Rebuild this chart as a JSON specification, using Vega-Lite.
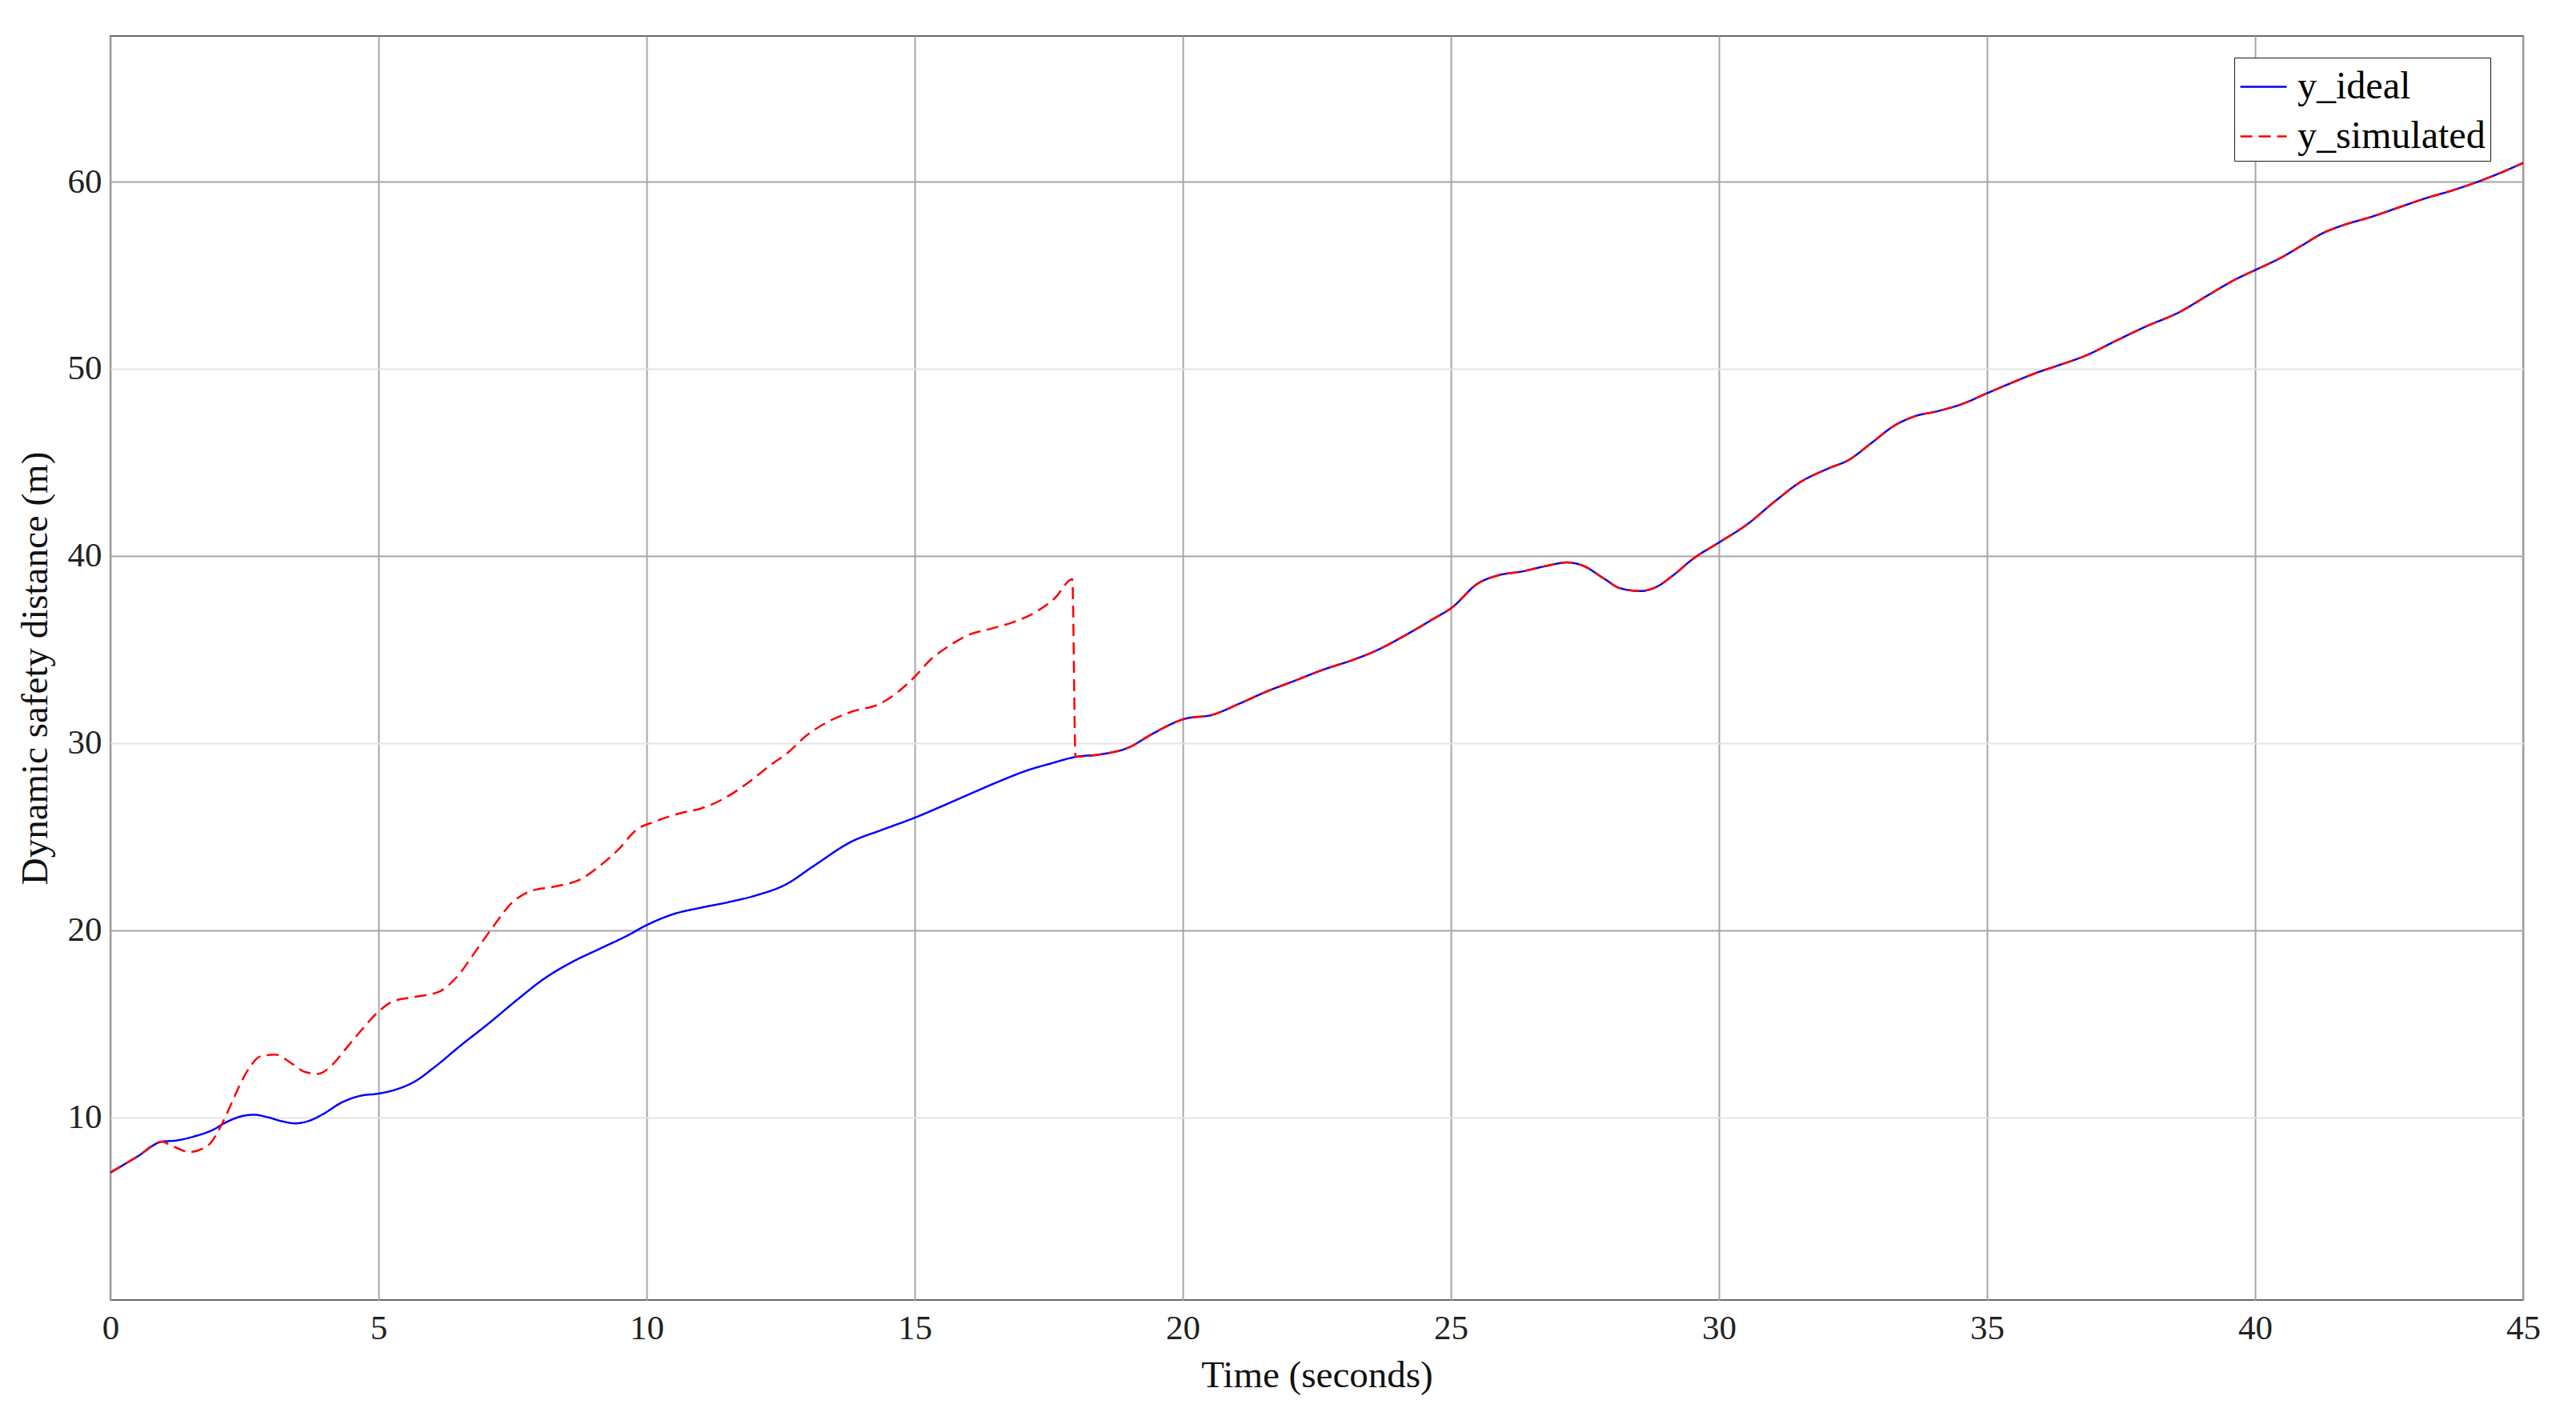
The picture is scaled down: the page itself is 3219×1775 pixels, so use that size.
{
  "$schema": "https://vega.github.io/schema/vega-lite/v6.json",
  "width": 3015,
  "height": 1580,
  "autosize": {"type": "none"},
  "padding": {"left": 138, "top": 45, "right": 66, "bottom": 150},
  "background": "white",
  "config": {
    "font": "Liberation Serif",
    "view": {"stroke": "#6b6b6b", "strokeWidth": 2},
    "axis": {
      "labelFont": "Liberation Serif",
      "titleFont": "Liberation Serif",
      "labelColor": "#222222",
      "titleColor": "#111111",
      "titleFontWeight": "normal",
      "domain": false,
      "ticks": false,
      "gridWidth": 2
    }
  },
  "datasets": {
    "curves": [
      {"t": 0, "y": 7.05, "series": "y_ideal"},
      {"t": 0.5, "y": 7.9, "series": "y_ideal"},
      {"t": 0.96, "y": 8.7, "series": "y_ideal"},
      {"t": 1.22, "y": 8.76, "series": "y_ideal"},
      {"t": 1.56, "y": 8.98, "series": "y_ideal"},
      {"t": 1.91, "y": 9.33, "series": "y_ideal"},
      {"t": 2.16, "y": 9.74, "series": "y_ideal"},
      {"t": 2.42, "y": 10.04, "series": "y_ideal"},
      {"t": 2.68, "y": 10.14, "series": "y_ideal"},
      {"t": 2.94, "y": 10.0, "series": "y_ideal"},
      {"t": 3.2, "y": 9.79, "series": "y_ideal"},
      {"t": 3.45, "y": 9.68, "series": "y_ideal"},
      {"t": 3.71, "y": 9.82, "series": "y_ideal"},
      {"t": 3.97, "y": 10.18, "series": "y_ideal"},
      {"t": 4.31, "y": 10.79, "series": "y_ideal"},
      {"t": 4.66, "y": 11.15, "series": "y_ideal"},
      {"t": 5.0, "y": 11.27, "series": "y_ideal"},
      {"t": 5.34, "y": 11.5, "series": "y_ideal"},
      {"t": 5.69, "y": 11.94, "series": "y_ideal"},
      {"t": 6.03, "y": 12.65, "series": "y_ideal"},
      {"t": 6.55, "y": 13.88, "series": "y_ideal"},
      {"t": 7.06, "y": 15.03, "series": "y_ideal"},
      {"t": 7.58, "y": 16.27, "series": "y_ideal"},
      {"t": 8.09, "y": 17.41, "series": "y_ideal"},
      {"t": 8.61, "y": 18.3, "series": "y_ideal"},
      {"t": 9.12, "y": 19.0, "series": "y_ideal"},
      {"t": 9.64, "y": 19.71, "series": "y_ideal"},
      {"t": 10.0, "y": 20.27, "series": "y_ideal"},
      {"t": 10.5, "y": 20.86, "series": "y_ideal"},
      {"t": 11.01, "y": 21.2, "series": "y_ideal"},
      {"t": 11.53, "y": 21.5, "series": "y_ideal"},
      {"t": 12.04, "y": 21.86, "series": "y_ideal"},
      {"t": 12.6, "y": 22.45, "series": "y_ideal"},
      {"t": 13.1, "y": 23.4, "series": "y_ideal"},
      {"t": 13.84, "y": 24.76, "series": "y_ideal"},
      {"t": 14.36, "y": 25.33, "series": "y_ideal"},
      {"t": 15.0, "y": 26.01, "series": "y_ideal"},
      {"t": 15.56, "y": 26.69, "series": "y_ideal"},
      {"t": 16.07, "y": 27.33, "series": "y_ideal"},
      {"t": 16.59, "y": 27.97, "series": "y_ideal"},
      {"t": 17.1, "y": 28.54, "series": "y_ideal"},
      {"t": 17.53, "y": 28.9, "series": "y_ideal"},
      {"t": 18.0, "y": 29.26, "series": "y_ideal"},
      {"t": 18.48, "y": 29.4, "series": "y_ideal"},
      {"t": 18.99, "y": 29.76, "series": "y_ideal"},
      {"t": 19.42, "y": 30.47, "series": "y_ideal"},
      {"t": 20.03, "y": 31.29, "series": "y_ideal"},
      {"t": 20.54, "y": 31.5, "series": "y_ideal"},
      {"t": 21.06, "y": 32.11, "series": "y_ideal"},
      {"t": 21.57, "y": 32.76, "series": "y_ideal"},
      {"t": 22.09, "y": 33.33, "series": "y_ideal"},
      {"t": 22.6, "y": 33.9, "series": "y_ideal"},
      {"t": 23.2, "y": 34.47, "series": "y_ideal"},
      {"t": 23.63, "y": 34.97, "series": "y_ideal"},
      {"t": 24.15, "y": 35.76, "series": "y_ideal"},
      {"t": 24.66, "y": 36.61, "series": "y_ideal"},
      {"t": 25.03, "y": 37.26, "series": "y_ideal"},
      {"t": 25.49, "y": 38.5, "series": "y_ideal"},
      {"t": 25.87, "y": 38.95, "series": "y_ideal"},
      {"t": 26.33, "y": 39.17, "series": "y_ideal"},
      {"t": 26.79, "y": 39.47, "series": "y_ideal"},
      {"t": 27.17, "y": 39.65, "series": "y_ideal"},
      {"t": 27.47, "y": 39.47, "series": "y_ideal"},
      {"t": 27.85, "y": 38.8, "series": "y_ideal"},
      {"t": 28.16, "y": 38.27, "series": "y_ideal"},
      {"t": 28.54, "y": 38.12, "series": "y_ideal"},
      {"t": 28.84, "y": 38.35, "series": "y_ideal"},
      {"t": 29.14, "y": 38.95, "series": "y_ideal"},
      {"t": 29.52, "y": 39.85, "series": "y_ideal"},
      {"t": 30.02, "y": 40.75, "series": "y_ideal"},
      {"t": 30.51, "y": 41.65, "series": "y_ideal"},
      {"t": 31.05, "y": 42.93, "series": "y_ideal"},
      {"t": 31.5, "y": 43.91, "series": "y_ideal"},
      {"t": 32.03, "y": 44.66, "series": "y_ideal"},
      {"t": 32.41, "y": 45.11, "series": "y_ideal"},
      {"t": 32.87, "y": 46.09, "series": "y_ideal"},
      {"t": 33.25, "y": 46.92, "series": "y_ideal"},
      {"t": 33.63, "y": 47.44, "series": "y_ideal"},
      {"t": 34.09, "y": 47.74, "series": "y_ideal"},
      {"t": 34.54, "y": 48.12, "series": "y_ideal"},
      {"t": 35.0, "y": 48.69, "series": "y_ideal"},
      {"t": 35.46, "y": 49.25, "series": "y_ideal"},
      {"t": 35.91, "y": 49.77, "series": "y_ideal"},
      {"t": 36.3, "y": 50.15, "series": "y_ideal"},
      {"t": 36.87, "y": 50.74, "series": "y_ideal"},
      {"t": 37.38, "y": 51.46, "series": "y_ideal"},
      {"t": 37.95, "y": 52.24, "series": "y_ideal"},
      {"t": 38.59, "y": 53.03, "series": "y_ideal"},
      {"t": 39.1, "y": 53.89, "series": "y_ideal"},
      {"t": 39.61, "y": 54.74, "series": "y_ideal"},
      {"t": 40.0, "y": 55.27, "series": "y_ideal"},
      {"t": 40.5, "y": 55.96, "series": "y_ideal"},
      {"t": 40.88, "y": 56.6, "series": "y_ideal"},
      {"t": 41.26, "y": 57.24, "series": "y_ideal"},
      {"t": 41.64, "y": 57.67, "series": "y_ideal"},
      {"t": 42.15, "y": 58.1, "series": "y_ideal"},
      {"t": 42.66, "y": 58.6, "series": "y_ideal"},
      {"t": 43.17, "y": 59.1, "series": "y_ideal"},
      {"t": 43.68, "y": 59.53, "series": "y_ideal"},
      {"t": 44.19, "y": 60.03, "series": "y_ideal"},
      {"t": 44.57, "y": 60.46, "series": "y_ideal"},
      {"t": 45.0, "y": 61.0, "series": "y_ideal"},

      {"t": 0, "y": 7.05, "series": "y_simulated"},
      {"t": 0.5, "y": 7.9, "series": "y_simulated"},
      {"t": 0.96, "y": 8.7, "series": "y_simulated"},
      {"t": 1.13, "y": 8.5, "series": "y_simulated"},
      {"t": 1.48, "y": 8.15, "series": "y_simulated"},
      {"t": 1.82, "y": 8.5, "series": "y_simulated"},
      {"t": 2.08, "y": 9.65, "series": "y_simulated"},
      {"t": 2.25, "y": 10.7, "series": "y_simulated"},
      {"t": 2.42, "y": 11.77, "series": "y_simulated"},
      {"t": 2.59, "y": 12.65, "series": "y_simulated"},
      {"t": 2.81, "y": 13.27, "series": "y_simulated"},
      {"t": 3.07, "y": 13.35, "series": "y_simulated"},
      {"t": 3.37, "y": 12.9, "series": "y_simulated"},
      {"t": 3.63, "y": 12.42, "series": "y_simulated"},
      {"t": 3.88, "y": 12.33, "series": "y_simulated"},
      {"t": 4.14, "y": 12.82, "series": "y_simulated"},
      {"t": 4.4, "y": 13.7, "series": "y_simulated"},
      {"t": 4.66, "y": 14.59, "series": "y_simulated"},
      {"t": 5.0, "y": 15.65, "series": "y_simulated"},
      {"t": 5.26, "y": 16.18, "series": "y_simulated"},
      {"t": 5.69, "y": 16.44, "series": "y_simulated"},
      {"t": 6.12, "y": 16.7, "series": "y_simulated"},
      {"t": 6.46, "y": 17.5, "series": "y_simulated"},
      {"t": 6.8, "y": 18.83, "series": "y_simulated"},
      {"t": 7.15, "y": 20.24, "series": "y_simulated"},
      {"t": 7.49, "y": 21.47, "series": "y_simulated"},
      {"t": 7.84, "y": 22.09, "series": "y_simulated"},
      {"t": 8.26, "y": 22.32, "series": "y_simulated"},
      {"t": 8.78, "y": 22.74, "series": "y_simulated"},
      {"t": 9.12, "y": 23.42, "series": "y_simulated"},
      {"t": 9.47, "y": 24.3, "series": "y_simulated"},
      {"t": 9.81, "y": 25.36, "series": "y_simulated"},
      {"t": 10.15, "y": 25.8, "series": "y_simulated"},
      {"t": 10.67, "y": 26.28, "series": "y_simulated"},
      {"t": 11.01, "y": 26.5, "series": "y_simulated"},
      {"t": 11.44, "y": 27.03, "series": "y_simulated"},
      {"t": 11.87, "y": 27.83, "series": "y_simulated"},
      {"t": 12.3, "y": 28.8, "series": "y_simulated"},
      {"t": 12.64, "y": 29.5, "series": "y_simulated"},
      {"t": 12.98, "y": 30.4, "series": "y_simulated"},
      {"t": 13.32, "y": 31.04, "series": "y_simulated"},
      {"t": 13.84, "y": 31.69, "series": "y_simulated"},
      {"t": 14.36, "y": 32.11, "series": "y_simulated"},
      {"t": 14.7, "y": 32.76, "series": "y_simulated"},
      {"t": 15.0, "y": 33.54, "series": "y_simulated"},
      {"t": 15.3, "y": 34.47, "series": "y_simulated"},
      {"t": 15.64, "y": 35.19, "series": "y_simulated"},
      {"t": 15.99, "y": 35.76, "series": "y_simulated"},
      {"t": 16.42, "y": 36.11, "series": "y_simulated"},
      {"t": 16.85, "y": 36.47, "series": "y_simulated"},
      {"t": 17.28, "y": 37.04, "series": "y_simulated"},
      {"t": 17.62, "y": 37.76, "series": "y_simulated"},
      {"t": 17.94, "y": 38.76, "series": "y_simulated"},
      {"t": 18.0, "y": 29.26, "series": "y_simulated"},
      {"t": 18.48, "y": 29.4, "series": "y_simulated"},
      {"t": 18.99, "y": 29.76, "series": "y_simulated"},
      {"t": 19.42, "y": 30.47, "series": "y_simulated"},
      {"t": 20.03, "y": 31.29, "series": "y_simulated"},
      {"t": 20.54, "y": 31.5, "series": "y_simulated"},
      {"t": 21.06, "y": 32.11, "series": "y_simulated"},
      {"t": 21.57, "y": 32.76, "series": "y_simulated"},
      {"t": 22.09, "y": 33.33, "series": "y_simulated"},
      {"t": 22.6, "y": 33.9, "series": "y_simulated"},
      {"t": 23.2, "y": 34.47, "series": "y_simulated"},
      {"t": 23.63, "y": 34.97, "series": "y_simulated"},
      {"t": 24.15, "y": 35.76, "series": "y_simulated"},
      {"t": 24.66, "y": 36.61, "series": "y_simulated"},
      {"t": 25.03, "y": 37.26, "series": "y_simulated"},
      {"t": 25.49, "y": 38.5, "series": "y_simulated"},
      {"t": 25.87, "y": 38.95, "series": "y_simulated"},
      {"t": 26.33, "y": 39.17, "series": "y_simulated"},
      {"t": 26.79, "y": 39.47, "series": "y_simulated"},
      {"t": 27.17, "y": 39.65, "series": "y_simulated"},
      {"t": 27.47, "y": 39.47, "series": "y_simulated"},
      {"t": 27.85, "y": 38.8, "series": "y_simulated"},
      {"t": 28.16, "y": 38.27, "series": "y_simulated"},
      {"t": 28.54, "y": 38.12, "series": "y_simulated"},
      {"t": 28.84, "y": 38.35, "series": "y_simulated"},
      {"t": 29.14, "y": 38.95, "series": "y_simulated"},
      {"t": 29.52, "y": 39.85, "series": "y_simulated"},
      {"t": 30.02, "y": 40.75, "series": "y_simulated"},
      {"t": 30.51, "y": 41.65, "series": "y_simulated"},
      {"t": 31.05, "y": 42.93, "series": "y_simulated"},
      {"t": 31.5, "y": 43.91, "series": "y_simulated"},
      {"t": 32.03, "y": 44.66, "series": "y_simulated"},
      {"t": 32.41, "y": 45.11, "series": "y_simulated"},
      {"t": 32.87, "y": 46.09, "series": "y_simulated"},
      {"t": 33.25, "y": 46.92, "series": "y_simulated"},
      {"t": 33.63, "y": 47.44, "series": "y_simulated"},
      {"t": 34.09, "y": 47.74, "series": "y_simulated"},
      {"t": 34.54, "y": 48.12, "series": "y_simulated"},
      {"t": 35.0, "y": 48.69, "series": "y_simulated"},
      {"t": 35.46, "y": 49.25, "series": "y_simulated"},
      {"t": 35.91, "y": 49.77, "series": "y_simulated"},
      {"t": 36.3, "y": 50.15, "series": "y_simulated"},
      {"t": 36.87, "y": 50.74, "series": "y_simulated"},
      {"t": 37.38, "y": 51.46, "series": "y_simulated"},
      {"t": 37.95, "y": 52.24, "series": "y_simulated"},
      {"t": 38.59, "y": 53.03, "series": "y_simulated"},
      {"t": 39.1, "y": 53.89, "series": "y_simulated"},
      {"t": 39.61, "y": 54.74, "series": "y_simulated"},
      {"t": 40.0, "y": 55.27, "series": "y_simulated"},
      {"t": 40.5, "y": 55.96, "series": "y_simulated"},
      {"t": 40.88, "y": 56.6, "series": "y_simulated"},
      {"t": 41.26, "y": 57.24, "series": "y_simulated"},
      {"t": 41.64, "y": 57.67, "series": "y_simulated"},
      {"t": 42.15, "y": 58.1, "series": "y_simulated"},
      {"t": 42.66, "y": 58.6, "series": "y_simulated"},
      {"t": 43.17, "y": 59.1, "series": "y_simulated"},
      {"t": 43.68, "y": 59.53, "series": "y_simulated"},
      {"t": 44.19, "y": 60.03, "series": "y_simulated"},
      {"t": 44.57, "y": 60.46, "series": "y_simulated"},
      {"t": 45.0, "y": 61.0, "series": "y_simulated"}
    ]
  },
  "data": {"name": "curves"},
  "mark": {"type": "line", "interpolate": "monotone", "strokeWidth": 2.5},
  "encoding": {
    "x": {
      "field": "t",
      "type": "quantitative",
      "scale": {"domain": [0, 45], "nice": false, "zero": false},
      "axis": {
        "values": [0, 5, 10, 15, 20, 25, 30, 35, 40, 45],
        "title": "Time (seconds)",
        "labelFontSize": 43,
        "titleFontSize": 47,
        "labelPadding": 14,
        "titlePadding": 14,
        "gridColor": "#a6a6a6",
        "labelFlush": false
      }
    },
    "y": {
      "field": "y",
      "type": "quantitative",
      "scale": {"domain": [0.24, 67.78], "nice": false, "zero": false},
      "axis": {
        "values": [10, 20, 30, 40, 50, 60],
        "title": "Dynamic safety distance (m)",
        "labelFontSize": 43,
        "titleFontSize": 47,
        "labelPadding": 11,
        "titlePadding": 16,
        "gridColor": {"expr": "datum.value % 20 === 0 ? '#a6a6a6' : '#e4e4e4'"}
      }
    },
    "color": {
      "field": "series",
      "type": "nominal",
      "scale": {"domain": ["y_ideal", "y_simulated"], "range": ["#0000ff", "#ff0000"]},
      "legend": {
        "title": null,
        "orient": "none",
        "legendX": 2654,
        "legendY": 27,
        "direction": "vertical",
        "fillColor": "white",
        "strokeColor": "#1a1a1a",
        "padding": 6,
        "labelFont": "Liberation Serif",
        "labelFontSize": 48,
        "labelColor": "#000000",
        "labelOffset": 12,
        "rowPadding": 7,
        "symbolType": "stroke",
        "symbolSize": 3364,
        "symbolStrokeWidth": 2.5,
        "labelLimit": 400
      }
    },
    "strokeDash": {
      "field": "series",
      "type": "nominal",
      "scale": {"domain": ["y_ideal", "y_simulated"], "range": [[1, 0], [15, 8]]},
      "legend": {
        "title": null,
        "orient": "none",
        "legendX": 2654,
        "legendY": 27,
        "direction": "vertical",
        "fillColor": "white",
        "strokeColor": "#1a1a1a",
        "padding": 6,
        "labelFont": "Liberation Serif",
        "labelFontSize": 48,
        "labelColor": "#000000",
        "labelOffset": 12,
        "rowPadding": 7,
        "symbolType": "stroke",
        "symbolSize": 3364,
        "symbolStrokeWidth": 2.5,
        "labelLimit": 400
      }
    },
    "order": {"field": "t", "type": "quantitative"}
  }
}
